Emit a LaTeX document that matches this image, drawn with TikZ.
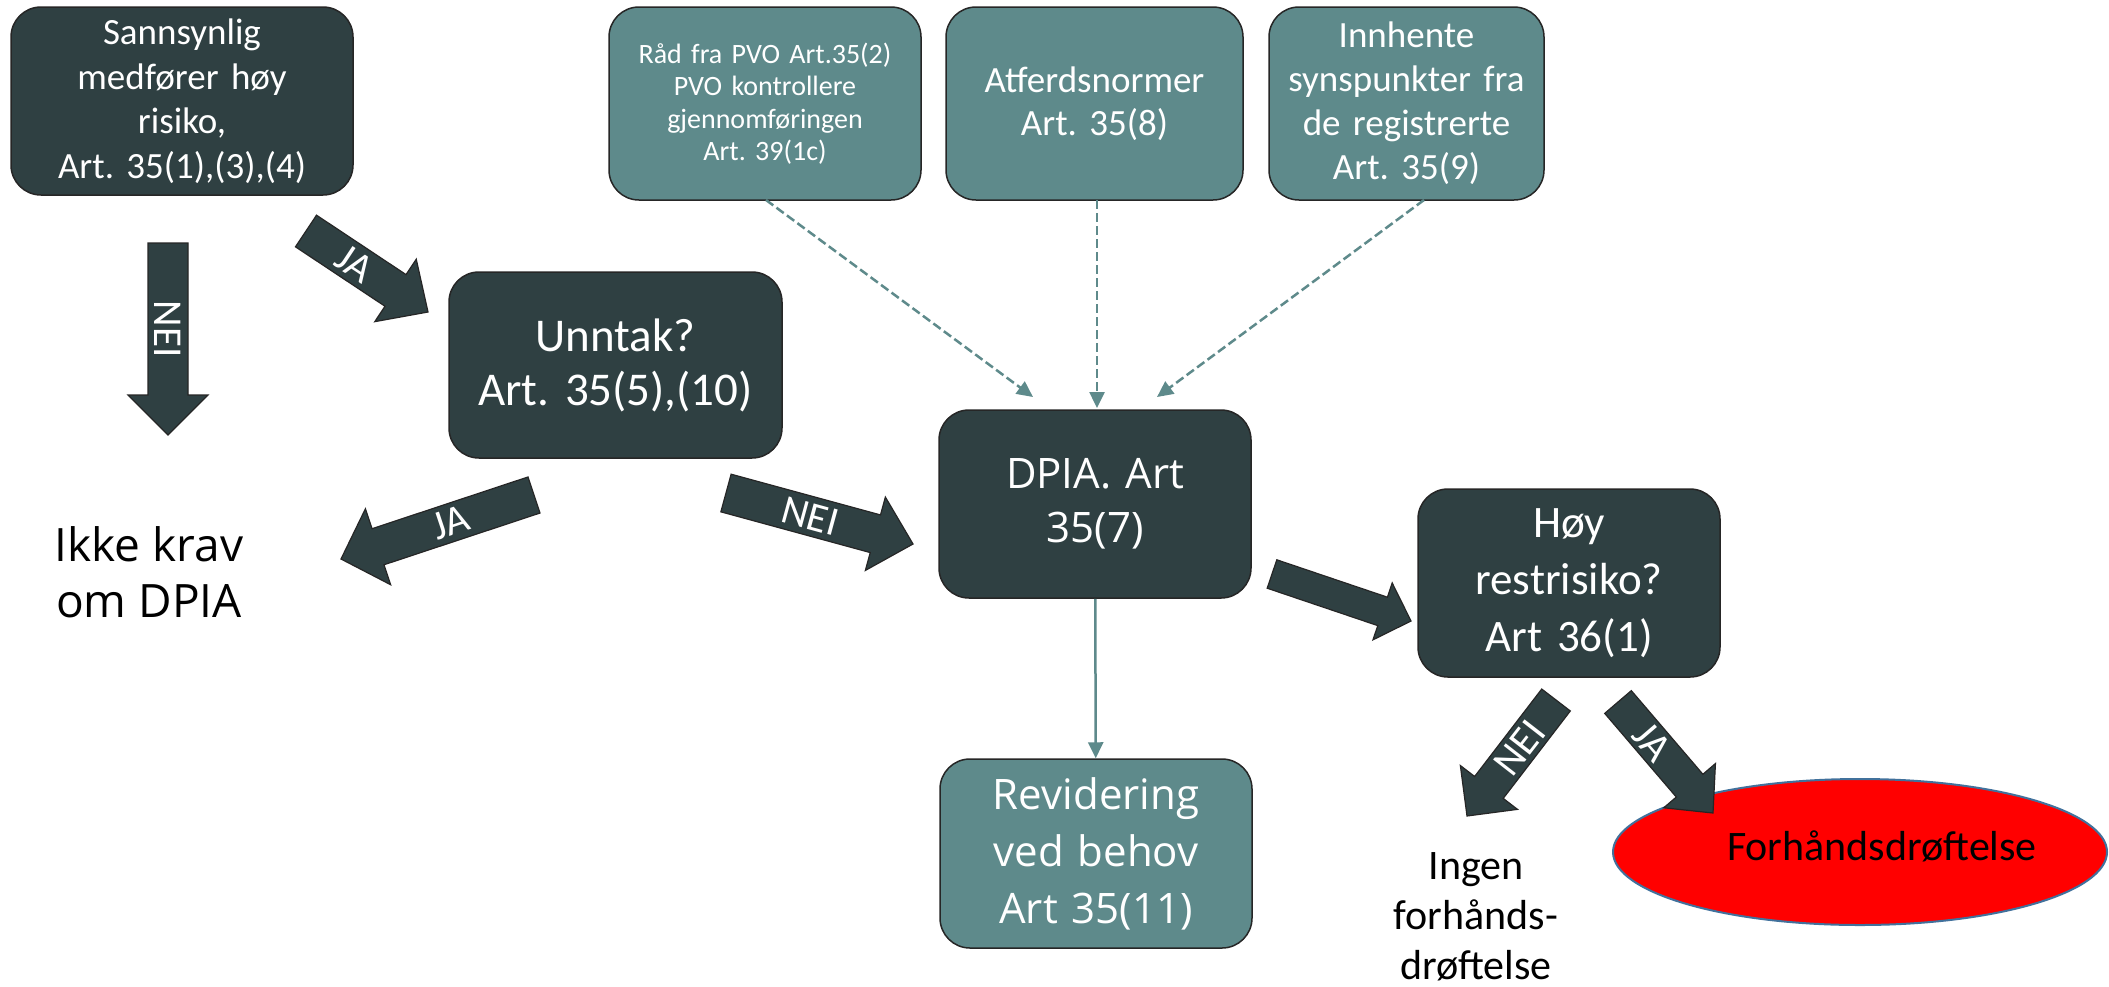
\documentclass[tikz,border=0pt]{standalone}
\usepackage{fontspec}
\setmainfont{Carlito}
\newfontfamily\opensans{Open Sans}
\usetikzlibrary{calc,arrows.meta,shapes.geometric}
\frenchspacing

\definecolor{slate}{RGB}{47,64,66}
\definecolor{tealbox}{RGB}{94,138,139}
\definecolor{rim}{RGB}{65,113,156}

\tikzset{
  box/.style={rectangle, rounded corners=30pt, draw=black!85, line width=1.5pt,
    text=white, align=center, inner sep=0pt},
  darkbox/.style={box, fill=slate},
  lightbox/.style={box, fill=tealbox},
  blockarr/.style={fill=slate, draw=black!85, line width=1.2pt, line join=miter},
  lbl/.style={text=white, font=\fontsize{41}{44}\selectfont, inner sep=0pt},
  dasharr/.style={draw=tealbox, line width=2.5pt, dash pattern=on 9pt off 4pt,
    -{Triangle[width=15pt,length=16pt]}},
  solidarr/.style={draw=tealbox, line width=2.5pt, -{Triangle[width=15pt,length=16pt]}},
  plain/.style={text=black, align=center, inner sep=0pt},
}

% wide block arrow: tail, tip, half shaft width, half head width, head length
\newcommand\blockarrow[5]{%
  \coordinate (ba-h) at ($(#2)!#5!(#1)$);
  \filldraw[blockarr] ($(#1)!#3!90:(#2)$) -- ($(ba-h)!#3!90:(#2)$)
    -- ($(ba-h)!#4!90:(#2)$) -- (#2) -- ($(ba-h)!#4!-90:(#2)$)
    -- ($(ba-h)!#3!-90:(#2)$) -- ($(#1)!#3!-90:(#2)$) -- cycle;
}

\begin{document}
\begin{tikzpicture}[x=1pt, y=-1pt]
\useasboundingbox[fill=white] (0,0) rectangle (2109,986);

% boxes
\node[darkbox, minimum width=342pt, minimum height=188pt, text width=320pt,
  font=\fontsize{37}{44.5}\selectfont] (risk) at (182,101)
  {Sannsynlig\\medfører høy\\risiko,\\Art. 35(1),(3),(4)};
\node[darkbox, minimum width=333pt, minimum height=186pt, text width=315pt,
  font=\fontsize{47}{54}\selectfont] (unntak) at (615.5,365)
  {Unntak?\\Art. 35(5),(10)};
\node[lightbox, minimum width=312pt, minimum height=193pt, text width=295pt,
  font=\fontsize{28}{32.5}\selectfont] (pvo) at (765,103.5)
  {Råd fra PVO Art.35(2)\\PVO kontrollere\\gjennomføringen\\Art. 39(1c)};
\node[lightbox, minimum width=297pt, minimum height=193pt, text width=280pt,
  font=\fontsize{37}{43}\selectfont] (normer) at (1094.5,103.5)
  {Atferdsnormer\\Art. 35(8)};
\node[lightbox, minimum width=275pt, minimum height=193pt, text width=262pt,
  font=\fontsize{37}{44}\selectfont] (innhent) at (1406.5,103.5)
  {Innhente\\synspunkter fra\\de registrerte\\Art. 35(9)};
\node[darkbox, minimum width=312pt, minimum height=188pt, text width=295pt,
  font=\opensans\fontsize{42}{54}\selectfont] (dpia) at (1095,504)
  {DPIA. Art\\35(7)};
\node[darkbox, minimum width=302pt, minimum height=188pt, text width=285pt,
  font=\fontsize{45}{57}\selectfont] (hoy) at (1569,583)
  {Høy\\restrisiko?\\Art 36(1)};
\node[lightbox, minimum width=312pt, minimum height=189pt, text width=295pt,
  font=\opensans\fontsize{42}{57}\selectfont] (rev) at (1096,853.5)
  {Revidering\\ved behov\\Art 35(11)};

% outcomes
\node[plain, font=\opensans\fontsize{46}{56}\selectfont] (ikke) at (149,572)
  {Ikke krav\\om DPIA};
\node[plain, font=\fontsize{42}{50}\selectfont] (ingen) at (1476,917)
  {Ingen\\forhånds-\\drøftelse};
\node[ellipse, fill=red, draw=rim, line width=2pt, minimum width=494pt,
  minimum height=146pt, inner sep=0pt] (forh) at (1860,852) {};
\node[plain, font=\fontsize{42}{50}\selectfont] (forhtxt) at (1882,846)
  {Forhåndsdrøftelse};

% inputs to the DPIA
\coordinate (pvoS) at (766,200);   \coordinate (pvoT) at (1033,397);
\coordinate (normS) at (1097,200); \coordinate (normT) at (1097,408);
\coordinate (innS) at (1424,200);  \coordinate (innT) at (1157,397);
\draw[dasharr] (pvoS) -- (pvoT);
\draw[dasharr] (normS) -- (normT);
\draw[dasharr] (innS) -- (innT);
\draw[solidarr] (dpia) -- (rev);

% decision arrows
\coordinate (a1t) at (306,231);  \coordinate (a1h) at (428,312);
\coordinate (a2t) at (168,243);  \coordinate (a2h) at (168,435);
\coordinate (a3t) at (534,495);  \coordinate (a3h) at (341,559);
\coordinate (a4t) at (726,493);  \coordinate (a4h) at (913,544);
\coordinate (a5t) at (1272,574); \coordinate (a5h) at (1411,621);
\coordinate (a6t) at (1556,700); \coordinate (a6h) at (1467,816);
\coordinate (a7t) at (1618,702); \coordinate (a7h) at (1713,813);

\blockarrow{a1t}{a1h}{19pt}{37.5pt}{39pt}
\blockarrow{a2t}{a2h}{20pt}{40pt}{40pt}
\blockarrow{a3t}{a3h}{19pt}{40pt}{39pt}
\blockarrow{a4t}{a4h}{19.5pt}{38pt}{39pt}
\blockarrow{a5t}{a5h}{15pt}{30pt}{30pt}
\blockarrow{a6t}{a6h}{18pt}{36pt}{36pt}
\blockarrow{a7t}{a7h}{17.5pt}{34pt}{36pt}

\path (a1t) -- (a1h) node[lbl, pos=0.40, rotate=-33.6] (l1) {JA};
\path (a2t) -- (a2h) node[lbl, pos=0.45, rotate=-90] (l2) {NEI};
\path (a3t) -- (a3h) node[lbl, pos=0.43, rotate=18.4] (l3) {JA};
\path (a4t) -- (a4h) node[lbl, pos=0.45, rotate=-15.3] (l4) {NEI};
\path (a6t) -- (a6h) node[lbl, pos=0.41, rotate=52.1] (l6) {NEI};
\path (a7t) -- (a7h) node[lbl, pos=0.36, rotate=-49.3] (l7) {JA};
\end{tikzpicture}
\end{document}
